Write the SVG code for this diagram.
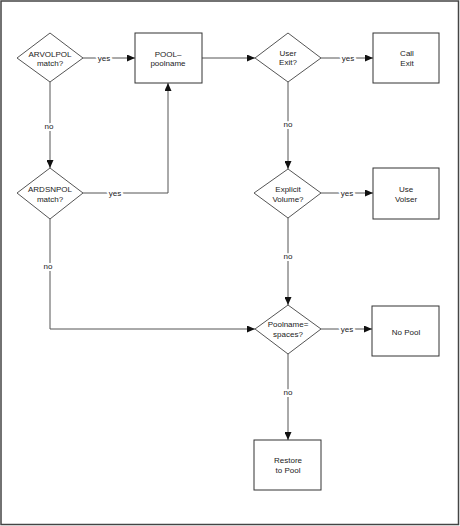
<svg xmlns="http://www.w3.org/2000/svg" width="460" height="526" viewBox="0 0 460 526">
<style>
.frame{fill:#fff;stroke:#444;stroke-width:1.5}
.dia{fill:#fff;stroke:#555;stroke-width:1}
.box{fill:#fff;stroke:#333;stroke-width:1}
.t{font-family:"Liberation Sans",Arial,sans-serif;font-size:8px;fill:#222;text-anchor:middle}
.lbl{font-family:"Liberation Sans",Arial,sans-serif;font-size:8px;fill:#222;text-anchor:middle;stroke:#fff;stroke-width:4;paint-order:stroke}
.c{fill:none;stroke:#555;stroke-width:1}
</style>
<defs>
<marker id="ah" markerUnits="userSpaceOnUse" markerWidth="8" markerHeight="7" refX="8" refY="3.5" orient="auto">
<path d="M0,0 L8,3.5 L0,7 z" fill="#111"/>
</marker>
</defs>
<rect class="frame" x="1" y="1" width="457.5" height="523.5"/>
<g id="connectors">
<path class="c" d="M83,58 H135" marker-end="url(#ah)"/>
<path class="c" d="M50,82 V168" marker-end="url(#ah)"/>
<path class="c" d="M83,193 H168 V83" marker-end="url(#ah)"/>
<path class="c" d="M202,58 H255" marker-end="url(#ah)"/>
<path class="c" d="M321,58 H373" marker-end="url(#ah)"/>
<path class="c" d="M288,82 V169" marker-end="url(#ah)"/>
<path class="c" d="M321,193 H373" marker-end="url(#ah)"/>
<path class="c" d="M288,218 V305" marker-end="url(#ah)"/>
<path class="c" d="M50,219 V329 H255" marker-end="url(#ah)"/>
<path class="c" d="M321,329 H372" marker-end="url(#ah)"/>
<path class="c" d="M288,354 V440" marker-end="url(#ah)"/>
<text class="lbl" x="104" y="61">yes</text>
<text class="lbl" x="49" y="129">no</text>
<text class="lbl" x="115" y="196">yes</text>
<text class="lbl" x="348" y="61">yes</text>
<text class="lbl" x="288" y="127">no</text>
<text class="lbl" x="347" y="196">yes</text>
<text class="lbl" x="288" y="259">no</text>
<text class="lbl" x="48" y="269">no</text>
<text class="lbl" x="347" y="332">yes</text>
<text class="lbl" x="288" y="395">no</text>
</g>
<g id="arvolpol">
<polygon class="dia" points="50,33 83,58 50,82 17,58"/>
<text class="t" x="50" y="57">ARVOLPOL</text>
<text class="t" x="50" y="66">match?</text>
</g>
<g id="pool-poolname">
<rect class="box" x="135" y="33" width="67" height="50"/>
<text class="t" x="168" y="57">POOL–</text>
<text class="t" x="168" y="66">poolname</text>
</g>
<g id="user-exit">
<polygon class="dia" points="288,33 321,58 288,82 255,58"/>
<text class="t" x="288" y="56">User</text>
<text class="t" x="288" y="65">Exit?</text>
</g>
<g id="call-exit">
<rect class="box" x="373" y="33" width="66" height="50"/>
<text class="t" x="407" y="56">Call</text>
<text class="t" x="407" y="66">Exit</text>
</g>
<g id="ardsnpol">
<polygon class="dia" points="50,168 83,193 50,219 17,193"/>
<text class="t" x="50" y="192">ARDSNPOL</text>
<text class="t" x="50" y="202">match?</text>
</g>
<g id="explicit-volume">
<polygon class="dia" points="288,169 321,193 288,218 254,193"/>
<text class="t" x="288" y="192">Explicit</text>
<text class="t" x="288" y="202">Volume?</text>
</g>
<g id="use-volser">
<rect class="box" x="373" y="168" width="66" height="51"/>
<text class="t" x="406" y="192">Use</text>
<text class="t" x="406" y="202">Volser</text>
</g>
<g id="poolname-spaces">
<polygon class="dia" points="288,305 321,329 288,354 255,329"/>
<text class="t" x="288" y="327">Poolname=</text>
<text class="t" x="288" y="337">spaces?</text>
</g>
<g id="no-pool">
<rect class="box" x="372" y="306" width="67" height="50"/>
<text class="t" x="406" y="335">No Pool</text>
</g>
<g id="restore-to-pool">
<rect class="box" x="254" y="440" width="67" height="50"/>
<text class="t" x="288" y="463">Restore</text>
<text class="t" x="288" y="473">to Pool</text>
</g>
</svg>
